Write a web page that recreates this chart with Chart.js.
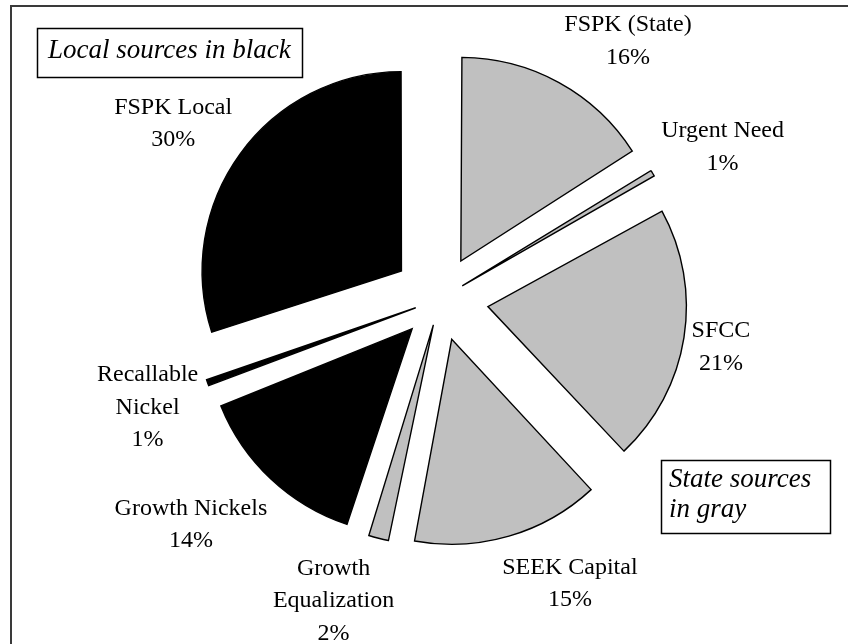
<!DOCTYPE html>
<html>
<head>
<meta charset="utf-8">
<script src="https://cdn.jsdelivr.net/npm/chart.js@4.4.1/dist/chart.umd.min.js"></script>
<style>
  html, body { margin: 0; padding: 0; background: #fff; }
  #wrap { width: 848px; height: 644px; }
</style>
</head>
<body>
<div id="wrap"><canvas id="c" width="848" height="644"></canvas></div>
<script>
// ---- data ----
const categories = ['FSPK (State)', 'Urgent Need', 'SFCC', 'SEEK Capital', 'Growth Equalization', 'Growth Nickels', 'Recallable Nickel', 'FSPK Local'];
const displayLabels = [['FSPK (State)'], ['Urgent Need'], ['SFCC'], ['SEEK Capital'], ['Growth', 'Equalization'], ['Growth Nickels'], ['Recallable', 'Nickel'], ['FSPK Local']];
const shares = [16, 1, 21, 15, 2, 14, 1, 30];
const sourceType = ['state', 'state', 'state', 'state', 'state', 'local', 'local', 'local'];

// ---- styling ----
const GRAY = '#c0c0c0';
const BLACK = '#000000';
const EXPLODE = 50;      // px every slice is pulled out
const RADIUS = 197;
const FONT = '"Liberation Serif", "Times New Roman", serif';
const LINE_H = 32.5;
// label block nudges relative to the slice's outer bisector point
const labelNudge = [[69, -43], [70, -28], [37, 8], [61, 46], [-45, 61], [-80, 44], [-60, 23], [-67, -32]];

const total = shares.reduce((a, b) => a + b, 0);
// Chart.js translates an arc by offset/4*(2 - sin(min(PI, circ))); solve for uniform explode
const offsets = shares.map(v => {
  const circ = v / total * Math.PI * 2;
  return 4 * EXPLODE / (2 - Math.sin(Math.min(Math.PI, circ)));
});

const framePlugin = {
  id: 'frame',
  beforeDraw(chart) {
    const ctx = chart.ctx;
    ctx.save();
    ctx.fillStyle = '#fff';
    ctx.fillRect(0, 0, chart.width, chart.height);
    ctx.strokeStyle = '#3a3a3a';
    ctx.lineWidth = 2;
    ctx.beginPath();
    ctx.moveTo(11, chart.height + 5);
    ctx.lineTo(11, 6);
    ctx.lineTo(chart.width + 5, 6);
    ctx.stroke();
    ctx.restore();
  }
};

const labelPlugin = {
  id: 'sliceLabels',
  afterDatasetsDraw(chart) {
    const ctx = chart.ctx;
    const meta = chart.getDatasetMeta(0);
    ctx.save();
    ctx.fillStyle = '#000';
    ctx.textAlign = 'center';
    ctx.textBaseline = 'alphabetic';
    ctx.font = '24px ' + FONT;
    meta.data.forEach((arc, i) => {
      const p = arc.getProps(['x', 'y', 'startAngle', 'endAngle', 'outerRadius'], true);
      const mid = (p.startAngle + p.endAngle) / 2;
      const d = p.outerRadius + EXPLODE;
      const cx = p.x + Math.cos(mid) * d + labelNudge[i][0];
      const cy = p.y + Math.sin(mid) * d + labelNudge[i][1];
      const lines = displayLabels[i].concat([Math.round(shares[i] / total * 100) + '%']);
      const n = lines.length;
      lines.forEach((t, k) => {
        const by = cy - (n - 1) * LINE_H / 2 + 8 + k * LINE_H;
        ctx.fillText(t, cx, by);
      });
    });
    ctx.restore();
  },
  afterDraw(chart) {
    const ctx = chart.ctx;
    ctx.save();
    ctx.strokeStyle = '#000';
    ctx.lineWidth = 1.5;
    ctx.fillStyle = '#000';
    ctx.font = 'italic 27px ' + FONT;
    ctx.textAlign = 'left';
    ctx.textBaseline = 'alphabetic';
    // note box: local
    ctx.strokeRect(37.5, 28.5, 265, 49);
    ctx.fillText('Local sources in black', 48, 58);
    // note box: state
    ctx.strokeRect(661.5, 460.5, 169, 73);
    ctx.fillText('State sources', 669, 487);
    ctx.fillText('in gray', 669, 517);
    ctx.restore();
  }
};

new Chart(document.getElementById('c'), {
  type: 'pie',
  data: {
    labels: categories,
    datasets: [{
      data: shares,
      backgroundColor: sourceType.map(s => s === 'state' ? GRAY : BLACK),
      borderColor: '#000',
      borderWidth: 1.4,
      borderJoinStyle: 'miter',
      offset: offsets,
      hoverOffset: 0
    }]
  },
  options: {
    responsive: false,
    animation: false,
    radius: RADIUS,
    layout: { padding: { left: 32, right: 0, top: 0, bottom: 46 } },
    plugins: {
      legend: { display: false },
      tooltip: { enabled: false }
    },
    events: []
  },
  plugins: [framePlugin, labelPlugin]
});
</script>
</body>
</html>
